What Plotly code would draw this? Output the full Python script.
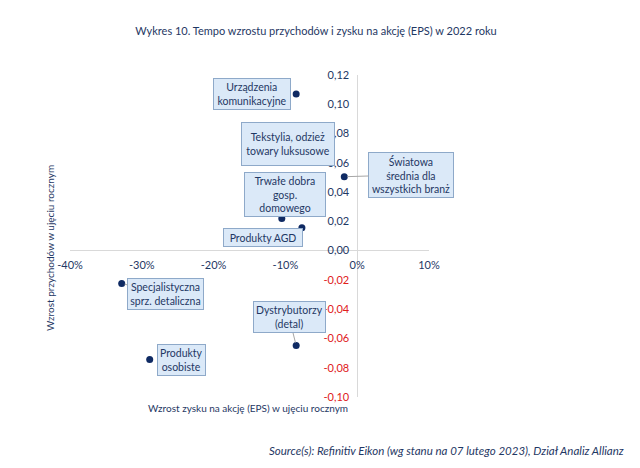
import plotly.graph_objects as go

# ---- data ----
sectors = [
    "Urządzenia<br>komunikacyjne",
    "Tekstylia, odzież<br>towary luksusowe",
    "Światowa<br>średnia dla<br>wszystkich branż",
    "Trwałe dobra<br>gosp.<br>domowego",
    "Produkty AGD",
    "Specjalistyczna<br>sprz. detaliczna",
    "Dystrybutorzy<br>(detal)",
    "Produkty<br>osobiste",
]
eps_growth = [-0.085, -0.096, -0.018, -0.105, -0.077, -0.328, -0.085, -0.289]
revenue_growth = [0.107, 0.073, 0.0505, 0.022, 0.0157, -0.0225, -0.0648, -0.0744]

x_tick_vals = [-0.40, -0.30, -0.20, -0.10, 0.0, 0.10]
x_tick_text = ["-40%", "-30%", "-20%", "-10%", "0%", "10%"]
y_tick_vals = [0.12, 0.10, 0.08, 0.06, 0.04, 0.02, 0.00, -0.02, -0.04, -0.06, -0.08, -0.10]
y_tick_text = ["0,12", "0,10", "0,08", "0,06", "0,04", "0,02", "0,00",
               "-0,02", "-0,04", "-0,06", "-0,08", "-0,10"]

title = "Wykres 10. Tempo wzrostu przychodów i zysku na akcję (EPS) w 2022 roku"
x_title = "Wzrost zysku na akcję (EPS) w ujęciu rocznym"
y_title = "Wzrost przychodów w ujęciu rocznym"
source = "Source(s): Refinitiv Eikon (wg stanu na 07 lutego 2023), Dział Analiz Allianz"

# ---- layout / style ----
NAVY = "#1f3864"
RED = "#e0201b"
FONT = "Lato"
# label box offsets in pixels relative to the point (ax, ay)
label_offsets = [(-44, 0), (0, 0), (67, -2), (3, -24), (-39, 10), (44, 10), (-7, -28), (32, 0)]
# label box text-area sizes (None = automatic)
label_sizes = [(72, 26), (88, 38), (80, 40), (76, 39), (74, 13), (71, 26), (None, 26), (None, 26)]
leader = [False, False, True, False, False, True, True, False]

x_range = [-0.40, 0.10]
y_range = [-0.10, 0.12]
yfrac0 = (0 - y_range[0]) / (y_range[1] - y_range[0])
xfrac0 = (0 - x_range[0]) / (x_range[1] - x_range[0])

y_tick_colored = [
    f'<span style="color:{RED}">{t}</span>' if v < 0 else t
    for v, t in zip(y_tick_vals, y_tick_text)
]

fig = go.Figure()
fig.add_trace(go.Scatter(
    x=eps_growth, y=revenue_growth, mode="markers",
    marker=dict(color="#0f2a63", size=7),
    hoverinfo="skip", showlegend=False, cliponaxis=False,
))

annotations = []
for name, xv, yv, (ax, ay), (w, h), ld in zip(sectors, eps_growth, revenue_growth,
                                             label_offsets, label_sizes, leader):
    a = dict(
        x=xv, y=yv, xref="x", yref="y", text=name,
        showarrow=True, ax=ax, ay=ay, axref="pixel", ayref="pixel",
        arrowhead=0, arrowwidth=1,
        arrowcolor="#a6a6a6" if ld else "rgba(0,0,0,0)",
        standoff=3,
        bgcolor="#dbe9f8", bordercolor="#8ea9c9", borderwidth=1, borderpad=2,
        font=dict(family=FONT, size=10.5, color=NAVY),
        align="center", valign="middle",
    )
    if w:
        a["width"] = w
    if h:
        a["height"] = h
    annotations.append(a)

annotations += [
    dict(text=x_title, xref="paper", yref="paper", x=(248 - 70) / 359, y=(397 - 408) / 322,
         showarrow=False, font=dict(family=FONT, size=10, color=NAVY), xanchor="center", yanchor="middle"),
    dict(text=y_title, xref="paper", yref="paper", x=(50 - 70) / 359, y=(397 - 248) / 322,
         showarrow=False, textangle=-90, font=dict(family=FONT, size=10, color=NAVY),
         xanchor="center", yanchor="middle"),
    dict(text=f"<i>{source}</i>", xref="paper", yref="paper", x=(626 - 70) / 359, y=(397 - 450) / 322,
         showarrow=False, font=dict(family=FONT, size=11.5, color=NAVY), xanchor="right", yanchor="middle"),
]

fig.update_layout(
    width=640, height=468,
    margin=dict(l=70, r=211, t=75, b=71),
    paper_bgcolor="white", plot_bgcolor="white",
    title=dict(text=title, x=316 / 640, xanchor="center", y=1 - 31 / 468, yanchor="middle",
               font=dict(family=FONT, size=11, color=NAVY)),
    font=dict(family=FONT, size=11, color=NAVY),
    xaxis=dict(range=x_range, tickvals=x_tick_vals, ticktext=x_tick_text,
               showgrid=False, zeroline=True, zerolinecolor="#d9d9d9", zerolinewidth=1,
               showline=False, anchor="free", position=yfrac0, ticks="",
               ticklabelstandoff=6, tickfont=dict(family=FONT, size=11, color=NAVY),
               fixedrange=True),
    yaxis=dict(range=y_range, tickvals=y_tick_vals, ticktext=y_tick_colored,
               showgrid=False, zeroline=True, zerolinecolor="#d9d9d9", zerolinewidth=1,
               showline=False, anchor="free", position=xfrac0, ticks="",
               ticklabelstandoff=8, tickfont=dict(family=FONT, size=11, color=NAVY),
               fixedrange=True),
    annotations=annotations,
    showlegend=False,
)

fig.write_html("out.html")
